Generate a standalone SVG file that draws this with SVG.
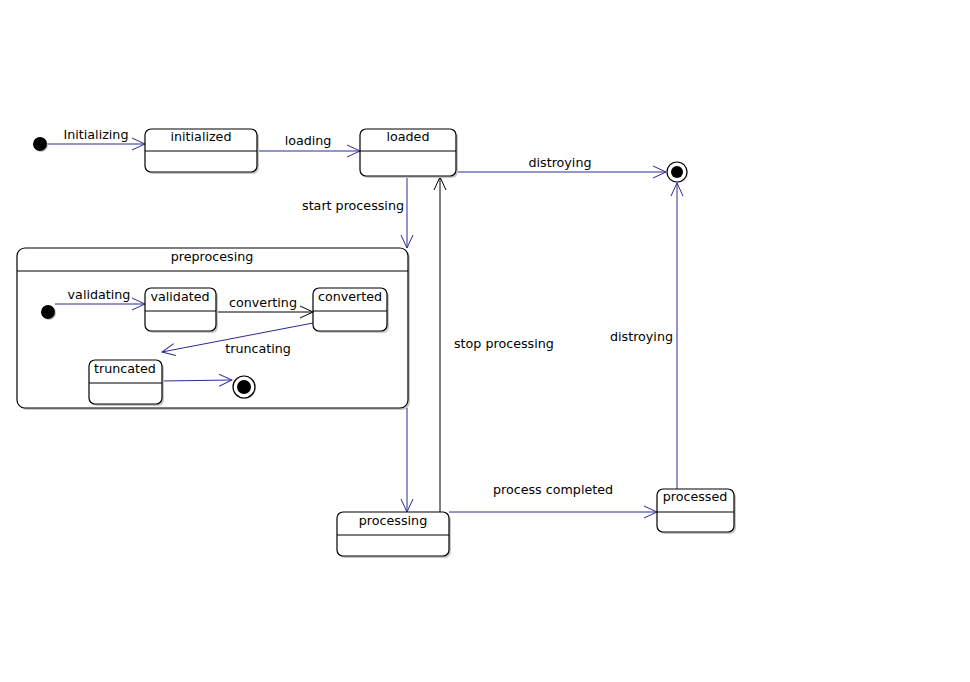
<svg xmlns="http://www.w3.org/2000/svg" width="970" height="682" viewBox="0 0 970 682">
  <defs>
    <style>
      .st { fill: #ffffff; stroke: #000000; stroke-width: 1.2; }
      .div { stroke: #000000; stroke-width: 1.2; }
      .sh { fill: #c8c8c8; }
      .t { font-family: "DejaVu Sans", Verdana, sans-serif; font-size: 12.7px; fill: #000000; }
      .c { text-anchor: middle; }
      .e { stroke: #2a2a96; stroke-width: 1; fill: none; }
      .k { stroke: #000000; stroke-width: 1; fill: none; }
    </style>
    <marker id="ab" viewBox="0 0 14 14" refX="13" refY="7" markerWidth="14" markerHeight="14" markerUnits="userSpaceOnUse" orient="auto">
      <path d="M0,1 L13,7 L0,13" fill="none" stroke="#2a2a96" stroke-width="1"/>
    </marker>
    <marker id="ak" viewBox="0 0 14 14" refX="13" refY="7" markerWidth="14" markerHeight="14" markerUnits="userSpaceOnUse" orient="auto">
      <path d="M0,1 L13,7 L0,13" fill="none" stroke="#000000" stroke-width="1"/>
    </marker>
  </defs>
  <rect width="970" height="682" fill="#ffffff"/>

  <!-- composite state drawn first so its inner transitions sit on top -->
  <g id="preprocesing">
    <rect class="sh" x="19" y="250" width="391" height="160" rx="8"/>
    <rect class="st" x="17" y="248" width="391" height="160" rx="8"/>
    <line class="div" x1="17" y1="271" x2="408" y2="271"/>
    <text class="t c" x="212" y="261">preprocesing</text>
  </g>

  <!-- transitions -->
  <g id="connectors">
    <line class="e" x1="47" y1="144" x2="145" y2="144" marker-end="url(#ab)"/>
    <line class="e" x1="257" y1="151" x2="360" y2="151" marker-end="url(#ab)"/>
    <line class="e" x1="456" y1="172" x2="666" y2="172" marker-end="url(#ab)"/>
    <line class="e" x1="407" y1="177" x2="407" y2="248" marker-end="url(#ab)"/>
    <line class="k" x1="440" y1="512" x2="440" y2="177" marker-end="url(#ak)"/>
    <line class="e" x1="407" y1="408" x2="407" y2="512" marker-end="url(#ab)"/>
    <line class="e" x1="449" y1="512" x2="657" y2="512" marker-end="url(#ab)"/>
    <line class="e" x1="677" y1="489" x2="677" y2="183" marker-end="url(#ab)"/>
    <line class="e" x1="55" y1="304" x2="145" y2="304" marker-end="url(#ab)"/>
    <line class="k" x1="216" y1="312" x2="313" y2="312" marker-end="url(#ak)"/>
    <line class="e" x1="313" y1="323" x2="162" y2="352" marker-end="url(#ab)"/>
    <line class="e" x1="162" y1="381" x2="232" y2="380" marker-end="url(#ab)"/>

    <text class="t c" x="96" y="139">Initializing</text>
    <text class="t c" x="308" y="145">loading</text>
    <text class="t c" x="560" y="167">distroying</text>
    <text class="t" x="404" y="210" text-anchor="end">start processing</text>
    <text class="t" x="454" y="348">stop processing</text>
    <text class="t c" x="553" y="494">process completed</text>
    <text class="t" x="673" y="341" text-anchor="end">distroying</text>
    <text class="t c" x="99" y="299">validating</text>
    <text class="t c" x="263" y="307">converting</text>
    <text class="t c" x="258" y="353">truncating</text>
  </g>

  <g id="start">
    <circle cx="41" cy="145" r="7" fill="#c8c8c8"/>
    <circle cx="40" cy="144" r="7" fill="#000000"/>
  </g>

  <g id="initialized">
    <rect class="sh" x="147" y="131" width="112" height="43" rx="6"/>
    <rect class="st" x="145" y="129" width="112" height="43" rx="6"/>
    <line class="div" x1="145" y1="151" x2="257" y2="151"/>
    <text class="t c" x="201" y="141">initialized</text>
  </g>

  <g id="loaded">
    <rect class="sh" x="362" y="131" width="96" height="47" rx="6"/>
    <rect class="st" x="360" y="129" width="96" height="47" rx="6"/>
    <line class="div" x1="360" y1="151" x2="456" y2="151"/>
    <text class="t c" x="408" y="141">loaded</text>
  </g>

  <g id="end">
    <circle cx="678" cy="173" r="10" fill="#c8c8c8"/>
    <circle cx="677" cy="172" r="10" fill="#ffffff" stroke="#000000" stroke-width="1.2"/>
    <circle cx="677" cy="172" r="6" fill="#000000"/>
  </g>

  <g id="pre-start">
    <circle cx="49" cy="313" r="7" fill="#c8c8c8"/>
    <circle cx="48" cy="312" r="7" fill="#000000"/>
  </g>

  <g id="validated">
    <rect class="sh" x="147" y="290" width="71" height="43" rx="6"/>
    <rect class="st" x="145" y="288" width="71" height="43" rx="6"/>
    <line class="div" x1="145" y1="311" x2="216" y2="311"/>
    <text class="t c" x="180" y="301">validated</text>
  </g>

  <g id="converted">
    <rect class="sh" x="315" y="290" width="74" height="43" rx="6"/>
    <rect class="st" x="313" y="288" width="74" height="43" rx="6"/>
    <line class="div" x1="313" y1="311" x2="387" y2="311"/>
    <text class="t c" x="350" y="301">converted</text>
  </g>

  <g id="truncated">
    <rect class="sh" x="91" y="362" width="73" height="44" rx="6"/>
    <rect class="st" x="89" y="360" width="73" height="44" rx="6"/>
    <line class="div" x1="89" y1="383" x2="162" y2="383"/>
    <text class="t c" x="125" y="373">truncated</text>
  </g>

  <g id="pre-end">
    <circle cx="245" cy="388" r="11" fill="#c8c8c8"/>
    <circle cx="244" cy="387" r="11" fill="#ffffff" stroke="#000000" stroke-width="1.2"/>
    <circle cx="244" cy="387" r="7" fill="#000000"/>
  </g>

  <g id="processing">
    <rect class="sh" x="339" y="514" width="112" height="44" rx="6"/>
    <rect class="st" x="337" y="512" width="112" height="44" rx="6"/>
    <line class="div" x1="337" y1="535" x2="449" y2="535"/>
    <text class="t c" x="393" y="525">processing</text>
  </g>

  <g id="processed">
    <rect class="sh" x="659" y="491" width="77" height="43" rx="6"/>
    <rect class="st" x="657" y="489" width="77" height="43" rx="6"/>
    <line class="div" x1="657" y1="512" x2="734" y2="512"/>
    <text class="t c" x="695" y="501">processed</text>
  </g>
</svg>
